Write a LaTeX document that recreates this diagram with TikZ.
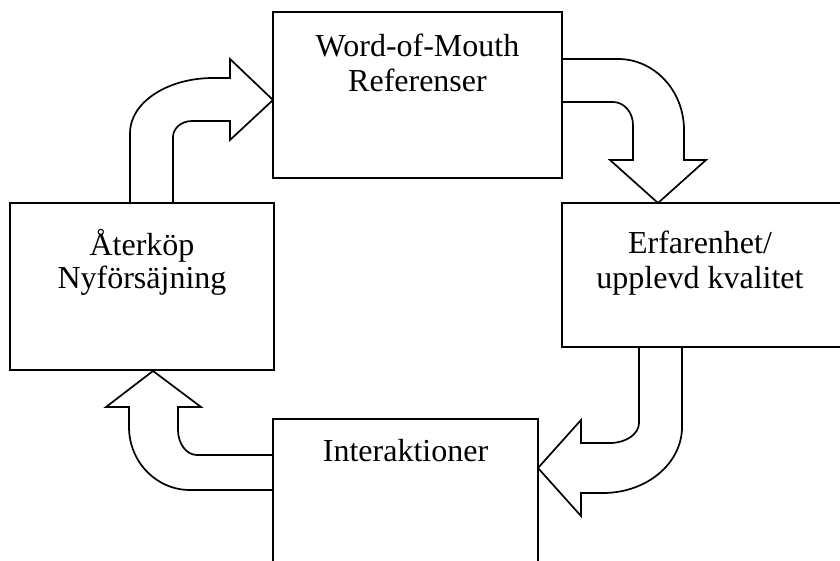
\documentclass[tikz,border=0pt]{standalone}
\usepackage{fontspec}
\setmainfont{Liberation Serif}
\begin{document}
\begin{tikzpicture}[x=1pt, y=-1pt,
  box/.style={draw, line width=1.7pt, inner sep=0pt, outer sep=0pt},
  lbl/.style={anchor=base, inner sep=0pt, font=\fontsize{32}{36}\selectfont},
  blockarrow/.style={draw, line width=1.7pt, line join=miter}]
\useasboundingbox (0,0) rectangle (840,561);
\clip (0,0) rectangle (840,561);

% bent block arrows between the boxes
% rebuy -> word of mouth
\draw[blockarrow] (130,203) -- (130,133)
  .. controls (130,102.6) and (167.2,78) .. (213,78)
  -- (230,78) -- (230,59) -- (273,100) -- (230,140) -- (230,121) -- (192,121)
  .. controls (181.5,121) and (173,128.2) .. (173,137) -- (173,203);
% word of mouth -> experience
\draw[blockarrow] (562,59) -- (618,59)
  .. controls (654.5,59) and (684,90.8) .. (684,130)
  -- (684,160) -- (706,160) -- (658,203) -- (610,160) -- (633,160) -- (633,125)
  .. controls (633,112.3) and (624,102) .. (613,102) -- (562,102);
% experience -> interactions
\draw[blockarrow] (682,347) -- (682,427)
  .. controls (682,463.5) and (646.6,493) .. (603,493)
  -- (581,493) -- (581,516) -- (538,468) -- (581,420) -- (581,443) -- (610,443)
  .. controls (626,443) and (639,434) .. (639,423) -- (639,347);
% interactions -> rebuy
\draw[blockarrow] (273,490) -- (190,490)
  .. controls (156.3,490) and (129,461.8) .. (129,427)
  -- (129,407) -- (106,407) -- (153,371) -- (201,407) -- (178,407) -- (178,430)
  .. controls (178,443.8) and (186.5,455) .. (197,455) -- (273,455);

% boxes
\node[box, minimum width=289pt, minimum height=166pt] (wom) at (417.5,95) {};
\node[box, minimum width=280pt, minimum height=144pt] (exp) at (702,275) {};
\node[box, minimum width=265pt, minimum height=181pt] (inter) at (405.5,509.5) {};
\node[box, minimum width=264pt, minimum height=167pt] (rebuy) at (142,286.5) {};

% labels
\node[lbl] (wom1) at (417.5,57) {Word-of-Mouth};
\node[lbl] (wom2) at (417.5,92) {Referenser};
\node[lbl] (exp1) at (700,254) {Erfarenhet/};
\node[lbl] (exp2) at (700,288) {upplevd kvalitet};
\node[lbl] (inter1) at (405.5,461) {Interaktioner};
\node[lbl] (rebuy1) at (142,255) {Återköp};
\node[lbl] (rebuy2) at (142,288) {Nyförsäjning};
\end{tikzpicture}
\end{document}
